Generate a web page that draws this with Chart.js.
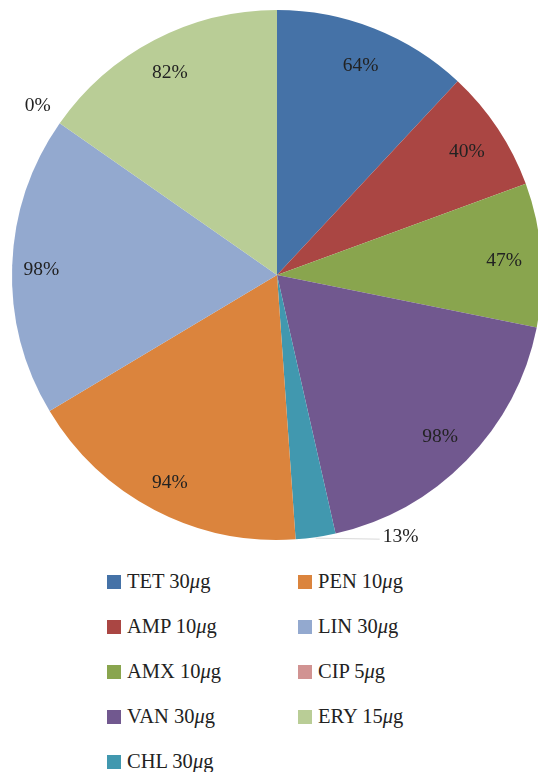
<!DOCTYPE html>
<html>
<head>
<meta charset="utf-8">
<script src="https://cdn.jsdelivr.net/npm/chart.js@4/dist/chart.umd.min.js"></script>
<style>
  html, body { margin: 0; padding: 0; background: #fff; width: 538px; height: 772px; overflow: hidden; }
  #wrap { position: absolute; left: 0; top: 0; width: 554px; height: 550px; }
  #legend { position: absolute; left: 107px; top: 559px; display: grid; grid-auto-flow: column;
            grid-template-rows: repeat(5, 45px); grid-template-columns: 191px 200px;
            font-family: "Liberation Serif", "DejaVu Serif", serif; font-size: 20.5px; color: #222; }
  .item { display: flex; align-items: center; height: 45px; }
  .box { width: 14px; height: 14px; margin-right: 6px; flex: none; }
  .item i { font-style: italic; }
</style>
</head>
<body>
<div id="wrap"><canvas id="c" width="554" height="550"></canvas></div>
<div id="legend"></div>
<script>
const categories = ['TET', 'AMP', 'AMX', 'VAN', 'CHL', 'PEN', 'LIN', 'CIP', 'ERY'];
const doses = ['30', '10', '10', '30', '30', '10', '30', '5', '15'];
const values = [64, 40, 47, 98, 13, 94, 98, 0, 82];
const colors = ['#4572A7', '#AA4643', '#89A54E', '#71588F', '#4198AF', '#DB843D', '#93A9CF', '#D19392', '#B9CD96'];

// external label offsets (styling)
const outside = {
  4: { lineTo: [64, 2], dx: 67, dy: 0, align: 'left' },
  7: { lineTo: null, dx: -22, dy: -17, align: 'center' }
};

const labelPlugin = {
  id: 'sliceLabels',
  afterDatasetsDraw(chart) {
    const ctx = chart.ctx;
    const meta = chart.getDatasetMeta(0);
    ctx.save();
    ctx.font = '19.5px "Liberation Serif", "DejaVu Serif", serif';
    ctx.fillStyle = '#222';
    ctx.textBaseline = 'middle';
    meta.data.forEach((arc, i) => {
      const p = arc.getProps(['x', 'y', 'startAngle', 'endAngle', 'outerRadius'], true);
      const mid = (p.startAngle + p.endAngle) / 2;
      const txt = values[i] + '%';
      if (outside[i]) {
        const o = outside[i];
        const ex = p.x + Math.cos(mid) * p.outerRadius;
        const ey = p.y + Math.sin(mid) * p.outerRadius;
        if (o.lineTo) {
          ctx.strokeStyle = '#d8d8d8';
          ctx.lineWidth = 1;
          ctx.beginPath();
          ctx.moveTo(ex, ey + 1);
          ctx.lineTo(ex + o.lineTo[0], ey + o.lineTo[1]);
          ctx.stroke();
        }
        ctx.textAlign = o.align;
        ctx.fillText(txt, ex + o.dx, ey + o.dy);
      } else {
        const cx = Math.cos(mid);
        const r = p.outerRadius * (0.86 + (cx < 0 ? -cx * 0.03 : 0));
        ctx.textAlign = 'center';
        ctx.fillText(txt, p.x + cx * r, p.y + Math.sin(mid) * r + 3);
      }
    });
    ctx.restore();
  }
};

new Chart(document.getElementById('c'), {
  type: 'pie',
  data: {
    labels: categories.map((c, i) => c + ' ' + doses[i] + 'μg'),
    datasets: [{ data: values, backgroundColor: colors, borderWidth: 0 }]
  },
  options: {
    responsive: false,
    animation: false,
    layout: { padding: { top: 10, bottom: 10, left: 0, right: 0 } },
    plugins: { legend: { display: false }, tooltip: { enabled: false } }
  },
  plugins: [labelPlugin]
});

const lg = document.getElementById('legend');
categories.forEach((c, i) => {
  const d = document.createElement('div');
  d.className = 'item';
  d.innerHTML = '<span class="box" style="background:' + colors[i] + '"></span><span>' + c + ' ' + doses[i] + '<i>μ</i>g</span>';
  lg.appendChild(d);
});
</script>
</body>
</html>
